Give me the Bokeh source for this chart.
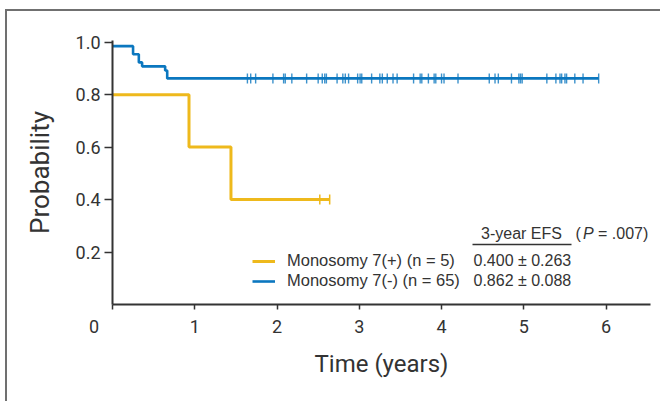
from bokeh.plotting import figure
from bokeh.models import FixedTicker, Label, Legend, LegendItem, Arrow, Range1d
from bokeh.embed import file_html
from bokeh.resources import INLINE

# ---------------- data ----------------
pos_label = "Monosomy 7(+) (n = 5)"
neg_label = "Monosomy 7(-) (n = 65)"
pos_efs = "0.400 \u00b1 0.263"
neg_efs = "0.862 \u00b1 0.088"

pos_times = [0.0, 0.93, 1.44, 2.64]
pos_surv = [0.8, 0.6, 0.4, 0.4]
pos_censor_t = [2.52, 2.64]
pos_censor_s = [0.4, 0.4]

neg_times = [0.0, 0.25, 0.32, 0.36, 0.64, 0.665, 5.91]
neg_surv = [0.985, 0.954, 0.923, 0.908, 0.892, 0.862, 0.862]
neg_censor_t = [1.64, 1.68, 1.74, 1.95, 2.08, 2.10, 2.18, 2.36, 2.50, 2.55,
                2.58, 2.60, 2.73, 2.80, 2.83, 2.87, 2.98, 3.01, 3.03, 3.15,
                3.25, 3.28, 3.34, 3.41, 3.46, 3.66, 3.74, 3.76, 3.84, 3.91,
                3.93, 4.00, 4.03, 4.20, 4.58, 4.65, 4.69, 4.85, 4.94, 4.96,
                4.98, 5.28, 5.39, 5.44, 5.46, 5.50, 5.52, 5.62, 5.72, 5.91]
neg_censor_s = [0.862 for _ in neg_censor_t]

x_ticks = [0, 1, 2, 3, 4, 5, 6]
x_tick_labels = ["0\u2003\u2003", "1", "2", "3", "4", "5", "6"]
y_ticks = [0.2, 0.4, 0.6, 0.8, 1.0]
y_tick_labels = ["0.2", "0.4", "0.6", "0.8", "1.0"]

# ---------------- styles ----------------
YELLOW = "#EEB91C"
BLUE = "#0B77BF"
AXIS = "#333333"
AXFONT = "Roboto"
SANS = "Liberation Sans"

p = figure(width=655, height=392, output_backend="svg", toolbar_location=None,
           x_range=Range1d(0, 6.54), y_range=Range1d(0, 1.0065),
           min_border_left=105, min_border_right=12, min_border_top=29,
           min_border_bottom=99)
p.styles = {"margin-left": "5px", "margin-top": "9px",
            "border-left": "2px solid #707070", "border-top": "2px solid #707070"}
p.outline_line_color = None
p.grid.visible = False

# curves
r_pos = p.step(pos_times, pos_surv, mode="after", line_color=YELLOW, line_width=3)
r_neg = p.step(neg_times, neg_surv, mode="after", line_color=BLUE, line_width=2.6)
p.scatter(pos_censor_t, pos_censor_s, marker="dash", angle=1.5708, size=10,
          line_color=YELLOW, line_width=1.5)
p.scatter(neg_censor_t, neg_censor_s, marker="dash", angle=1.5708, size=10,
          line_color=BLUE, line_width=1.4, line_alpha=0.8)

# axes
for ax in (p.xaxis[0], p.yaxis[0]):
    ax.axis_line_color = AXIS
    ax.axis_line_width = 2
    ax.major_tick_line_color = AXIS
    ax.major_tick_line_width = 1.5
    ax.minor_tick_line_color = None
    ax.major_tick_in = 0
    ax.major_label_text_font = AXFONT
    ax.major_label_text_font_size = "18px"
    ax.major_label_text_color = AXIS
    ax.axis_label_text_font = AXFONT
    ax.axis_label_text_font_style = "normal"
    ax.axis_label_text_color = AXIS

p.xaxis[0].ticker = FixedTicker(ticks=x_ticks)
p.xaxis[0].major_label_overrides = {t: s for t, s in zip(x_ticks, x_tick_labels)}
p.xaxis[0].major_tick_out = 5
p.xaxis[0].major_label_standoff = 6
p.xaxis[0].axis_label = "Time (years)"
p.xaxis[0].axis_label_text_font_size = "24px"
p.xaxis[0].axis_label_standoff = 10

p.yaxis[0].ticker = FixedTicker(ticks=y_ticks)
p.yaxis[0].major_label_overrides = {t: s for t, s in zip(y_ticks, y_tick_labels)}
p.yaxis[0].major_tick_out = 8
p.yaxis[0].major_label_standoff = 4
p.yaxis[0].axis_label = "Probability"
p.yaxis[0].axis_label_text_font_size = "26px"
p.yaxis[0].axis_label_standoff = 18

# legend
legend = Legend(items=[LegendItem(label=pos_label, renderers=[r_pos]),
                       LegendItem(label=neg_label, renderers=[r_neg])],
                location=(140, 14), orientation="vertical",
                border_line_color=None, background_fill_alpha=0,
                padding=0, margin=0, spacing=1,
                glyph_height=14, glyph_width=23, label_height=14,
                label_standoff=12, label_text_font=SANS,
                label_text_font_size="16.5px", label_text_color=AXIS)
p.add_layout(legend)

# EFS table
common = dict(x_units="screen", y_units="screen", text_font=SANS,
              text_font_size="16px", text_color=AXIS, text_baseline="middle")
p.add_layout(Label(x=361, y=44, text=pos_efs, text_align="left", **common))
p.add_layout(Label(x=361, y=24, text=neg_efs, text_align="left", **common))
p.add_layout(Label(x=409, y=71, text="3-year EFS", text_align="center", **common))
p.add_layout(Label(x=463, y=71, text="(", text_align="left", **common))
p.add_layout(Label(x=470.5, y=71, text="P", text_align="left",
                   text_font_style="italic", **common))
p.add_layout(Label(x=485.5, y=71, text="= .007)", text_align="left", **common))
p.add_layout(Arrow(end=None, x_start=360, y_start=60, x_end=459, y_end=60,
                   start_units="screen", end_units="screen",
                   line_color=AXIS, line_width=1.5))

open("out.html", "w").write(file_html(p, INLINE))
